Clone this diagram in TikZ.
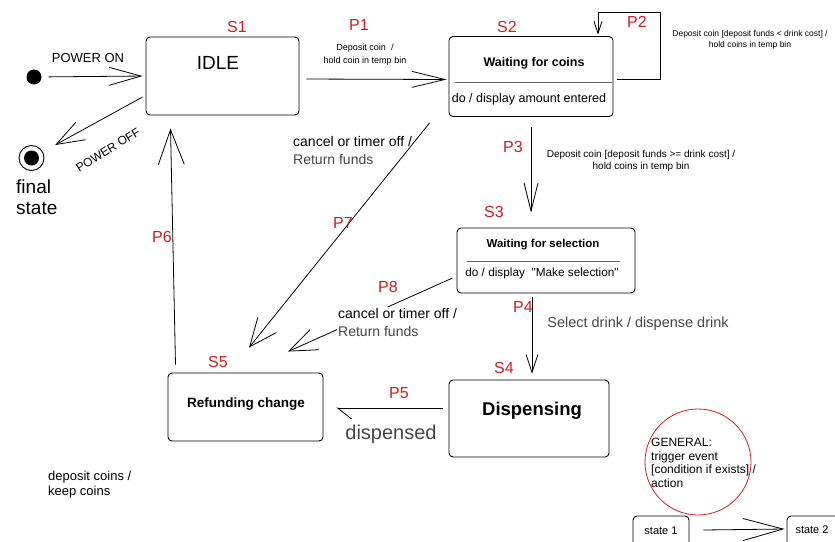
\documentclass[tikz,border=0pt]{standalone}
\usepackage{fontspec}
\setmainfont{Liberation Sans}
\usepackage{tikz}
\usetikzlibrary{arrows.meta}
\definecolor{lblred}{RGB}{200,32,36}
\definecolor{txtgray}{RGB}{70,70,70}
\newcommand{\fsize}[2]{\fontsize{#1}{#2}\selectfont}

\begin{document}
\begin{tikzpicture}[x=1pt,y=-1pt,
    state/.style={draw, rounded corners=4pt, line width=0.9pt, inner sep=0pt},
    plbl/.style={text=lblred, font=\fsize{16}{18}, inner sep=0pt},
    txt/.style={inner sep=0pt},
    openhead/.style n args={2}{line width=0.8pt, -{Straight Barb[length=#1, width=#2]}}]
            \useasboundingbox (0,0) rectangle (835,541);
            \node[state, minimum width=153pt, minimum height=78pt] (idle) at (222.5,76) {};
            \node[state, minimum width=164pt, minimum height=80pt] (coins) at (531,76.5) {};
            \node[state, minimum width=178pt, minimum height=65pt] (select) at (546,260.5) {};
            \node[state, minimum width=160pt, minimum height=77pt] (dispense) at (529,418.5) {};
            \node[state, minimum width=155pt, minimum height=68pt] (refund) at (245.5,407) {};
            \node[state, minimum width=56pt, minimum height=40pt] (st1) at (661,536) {};
            \node[state, minimum width=60pt, minimum height=40pt] (st2) at (817,536) {};
            \node[circle, fill, minimum size=15pt, inner sep=0pt] (init) at (34,77) {};
            \node[circle, draw, line width=0.9pt, minimum size=25pt, inner sep=0pt] (final) at (31.5,158) {};
            \node[circle, fill, minimum size=15pt, inner sep=0pt] (finaldot) at (final.center) {};
            \node[circle, draw=lblred, line width=0.8pt, minimum size=106pt, inner sep=0pt] (general) at (698,462) {};
            \draw[line width=0.8pt, black!60] (455,82) -- (612,82);
            \draw[line width=0.8pt, black!60] (467,261) -- (620,261);
            \draw[openhead={32pt}{18pt}, shorten <=7pt, shorten >=3pt] (init) -- (idle.west);
            \draw[openhead={28pt}{20pt}, shorten >=14pt] ([xshift=-3pt,yshift=-21pt]idle.west) -- (final);
            \draw[openhead={33pt}{16pt}, shorten <=7pt, shorten >=2pt] ([yshift=-3pt]idle.east) -- ([yshift=-3pt]coins.west);
            \draw[openhead={12pt}{8pt}] ([xshift=4pt,yshift=-2.5pt]coins.east) -- ++(43,0) -- ++(0,-67) -| ([xshift=67pt,yshift=1.5pt]coins.north);
            \draw[openhead={28pt}{14pt}] ([yshift=-10pt]coins.south) -- ([yshift=15pt]coins.south |- select.north);
            \draw[openhead={18pt}{12pt}] ([xshift=3pt,yshift=-4pt]dispense.north |- select.south) -- ([xshift=3pt,yshift=6pt]dispense.north);
            \draw[line width=0.8pt, -{Straight Barb[left, length=14pt, width=22pt]}] ([xshift=-6pt,yshift=10.5pt]dispense.west) -- ([xshift=13pt,yshift=-1pt]refund.east);
            \draw[openhead={35pt}{26pt}] ([xshift=-70pt,yshift=8pt]refund.north) -- ([xshift=-52pt,yshift=-13pt]idle.south);
            \draw[openhead={28pt}{24pt}] ([xshift=-19pt,yshift=-6pt]coins.south west) -- ([xshift=3.5pt,yshift=25pt]refund.north);
            \draw[openhead={28pt}{22pt}] ([xshift=-4pt,yshift=-17.5pt]select.west) -- ([xshift=42.5pt,yshift=21pt]refund.north);
            \draw[openhead={40pt}{22pt}] ([xshift=14pt,yshift=6pt]st1.east) -- ([xshift=-2pt,yshift=7pt]st2.west);
            \node[plbl] (s1) at (237,27) {S1};
            \node[plbl] (s2) at (507,27) {S2};
            \node[plbl] (s3) at (494,212) {S3};
            \node[plbl] (s4) at (504,368) {S4};
            \node[plbl] (s5) at (218,362) {S5};
            \node[plbl] (p1) at (359,25) {P1};
            \node[plbl] (p2) at (637,22) {P2};
            \node[plbl] (p3) at (513,147) {P3};
            \node[plbl] (p4) at (523,307) {P4};
            \node[plbl] (p5) at (399,393) {P5};
            \node[plbl] (p6) at (162,237) {P6};
            \node[plbl] (p7) at (343,223) {P7};
            \node[plbl] (p8) at (388,287) {P8};
            \node[txt, font=\fsize{19}{22}] (idletxt) at (218,63) {IDLE};
            \node[txt, font=\bfseries\fsize{12.5}{14}] (coinstxt) at (534,63) {Waiting for coins};
            \node[txt, font=\fsize{12.5}{14}] (coinsdo) at (529,99) {do / display amount entered};
            \node[txt, font=\bfseries\fsize{11.5}{13}] (selecttxt) at (543,245) {Waiting for selection};
            \node[txt, font=\fsize{11.8}{13}] (selectdo) at (542,273) {do / display \ \textquotedbl Make selection\textquotedbl};
            \node[txt, font=\bfseries\fsize{18.5}{20}] (disptxt) at (532,411) {Dispensing};
            \node[txt, font=\bfseries\fsize{13.5}{15}] (refundtxt) at (246,404) {Refunding change};
            \node[txt, font=\fsize{13}{15}] (ontxt) at (88,58) {POWER ON};
            \node[txt, font=\fsize{12}{14}, rotate=32] (offtxt) at (108,150) {POWER OFF};
            \node[txt, font=\fsize{9}{13}, align=center] (p1txt) at (365,55) {Deposit coin \ /\\hold coin in temp bin};
            \node[txt, font=\fsize{8.5}{10.5}, align=center] (p2txt) at (750,40) {Deposit coin [deposit funds < drink cost] /\\hold coins in temp bin};
            \node[txt, font=\fsize{10}{12}, align=center] (p3txt) at (641,161) {Deposit coin [deposit funds >= drink cost] /\\hold coins in temp bin};
            \node[txt, font=\fsize{14.5}{16}, text=txtgray] (p4txt) at (638,324) {Select drink / dispense drink};
            \node[txt, font=\fsize{20}{22}, text=txtgray] (p5txt) at (391,434) {dispensed};
            \node[txt, font=\fsize{14}{18}, align=left, anchor=west] (p7txt) at (293,150) {cancel or timer off /\\\textcolor{txtgray}{Return funds}};
            \node[txt, font=\fsize{14}{18}, align=left, anchor=west, fill=white, inner sep=1pt] (p8txt) at (337,322) {cancel or timer off /\\\textcolor{txtgray}{Return funds}};
            \node[txt, font=\fsize{19}{21}, align=left, anchor=west] (finaltxt) at (16,197) {final\\state};
            \node[txt, font=\fsize{13}{15}, align=left, anchor=west] (keeptxt) at (48,485) {deposit coins /\\keep coins};
            \node[txt, font=\fsize{12}{13.7}, align=left, anchor=west] (gentxt) at (651,463) {GENERAL:\\trigger event\\{[}condition if exists{]} /\\action};
            \node[txt, font=\fsize{11}{13}] (st1txt) at (661,531) {state 1};
            \node[txt, font=\fsize{11}{13}] (st2txt) at (812,530) {state 2};
\end{tikzpicture}
\end{document}
